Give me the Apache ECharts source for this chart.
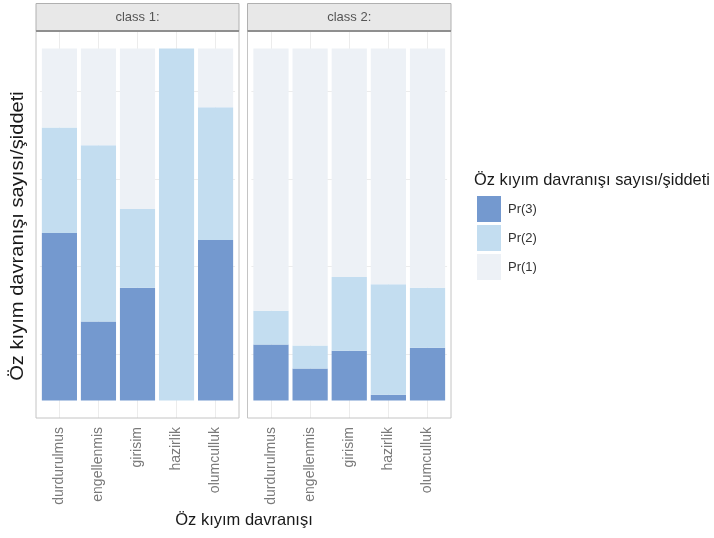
<!DOCTYPE html>
<html><head><meta charset="utf-8">
<script src="https://cdn.jsdelivr.net/npm/echarts@6/dist/echarts.min.js"></script>
<style>html,body{margin:0;padding:0;background:#fff}#c{width:714px;height:538px}</style>
</head><body><div id="c"></div>
<script>
var categories = ['durdurulmus','engellenmis','girisim','hazirlik','olumculluk'];
var panels = ['class 1:','class 2:'];
var levels = ['Pr(3)','Pr(2)','Pr(1)'];
// class 1
var c1_pr3 = [0.476, 0.224, 0.320, 0.000, 0.456];
var c1_pr2 = [0.300, 0.501, 0.224, 1.000, 0.377];
var c1_pr1 = [0.224, 0.275, 0.456, 0.000, 0.167];
// class 2
var c2_pr3 = [0.159, 0.091, 0.141, 0.016, 0.150];
var c2_pr2 = [0.096, 0.065, 0.210, 0.314, 0.170];
var c2_pr1 = [0.745, 0.844, 0.649, 0.670, 0.680];
var minorGrid = [0.125, 0.375, 0.625, 0.875];

var colors = {'Pr(3)':'#7499cf','Pr(2)':'#c3ddf0','Pr(1)':'#edf1f6'};
var FONT = 'Liberation Sans';
var chart = echarts.init(document.getElementById('c'));

var panelBox = [{x:36,y:31,w:203,h:387},{x:247.5,y:31,w:203.5,h:387}];
var grids = panelBox.map(function(p){
  var u = p.w/5.2;
  return {left:p.x+0.1*u, top:p.y, width:5*u, height:p.h};
});

var xAxes = grids.map(function(g,i){
  return {type:'category', gridIndex:i, data:categories,
    axisLine:{show:false},
    axisTick:{show:true, alignWithLabel:true, length:4, lineStyle:{color:'#555'}},
    axisLabel:{rotate:90, fontSize:14, color:'#7a7a7a', fontFamily:FONT, margin:9},
    splitLine:{show:false}};
});
var yAxes = grids.map(function(g,i){
  return {type:'value', gridIndex:i, min:-0.05, max:1.05,
    axisLine:{show:false}, axisTick:{show:false}, axisLabel:{show:false}, splitLine:{show:false}};
});

var data = [[c1_pr3,c1_pr2,c1_pr1],[c2_pr3,c2_pr2,c2_pr1]];
var series = [];
[0,1].forEach(function(i){
  series.push({type:'line', xAxisIndex:i, yAxisIndex:i, data:[], silent:true, z:0,
    markLine:{silent:true, symbol:'none', z:1, label:{show:false},
      lineStyle:{color:'#ececec', width:1, type:'solid'},
      data: categories.map(function(c){return {xAxis:c};}).concat(
        minorGrid.map(function(v){return {yAxis:v};}))}});
  levels.forEach(function(l,k){
    series.push({name:l, type:'bar', stack:'s'+i, xAxisIndex:i, yAxisIndex:i,
      data:data[i][k], barCategoryGap:'10%', itemStyle:{color:colors[l]}, z:2, silent:true});
  });
});

var graphics = [];
panelBox.forEach(function(p,i){
  graphics.push({type:'rect', shape:{x:p.x,y:p.y,width:p.w,height:p.h}, style:{fill:null, stroke:'#c4c4c4', lineWidth:1}, z:10, silent:true});
  graphics.push({type:'rect', shape:{x:p.x,y:3.5,width:p.w,height:p.y-3.5}, style:{fill:'#e8e8e8', stroke:'#b0b0b0', lineWidth:1}, z:10, silent:true});
  graphics.push({type:'line', shape:{x1:p.x,y1:p.y,x2:p.x+p.w,y2:p.y}, style:{stroke:'#8f8f8f', lineWidth:2}, z:11, silent:true});
  graphics.push({type:'text', x:p.x+p.w/2, y:17.5, style:{text:panels[i], fill:'#555', fontSize:13, fontFamily:FONT, align:'center', verticalAlign:'middle'}, z:12, silent:true});
});
graphics.push({type:'text', x:18, y:236, rotation:Math.PI/2, scaleX:1.15, style:{text:'Öz kıyım davranışı sayısı/şiddeti', fill:'#1a1a1a', fontSize:17.5, fontFamily:FONT, align:'center', verticalAlign:'middle'}, silent:true});
graphics.push({type:'text', x:244, y:520, style:{text:'Öz kıyım davranışı', fill:'#1a1a1a', fontSize:16.5, fontFamily:FONT, align:'center', verticalAlign:'middle'}, silent:true});
graphics.push({type:'text', x:474, y:180, style:{text:'Öz kıyım davranışı sayısı/şiddeti', fill:'#1a1a1a', fontSize:16.4, fontFamily:FONT, align:'left', verticalAlign:'middle'}, silent:true});

chart.setOption({
  animation:false,
  backgroundColor:'#fff',
  grid:grids,
  xAxis:xAxes,
  yAxis:yAxes,
  legend:{data:levels, orient:'vertical', left:477, top:196, icon:'rect', itemWidth:24, itemHeight:26, itemGap:3,
    textStyle:{fontSize:13, color:'#333', fontFamily:FONT, padding:[0,0,0,2]}, selectedMode:false, padding:0},
  graphic:graphics,
  series:series
});
</script></body></html>
